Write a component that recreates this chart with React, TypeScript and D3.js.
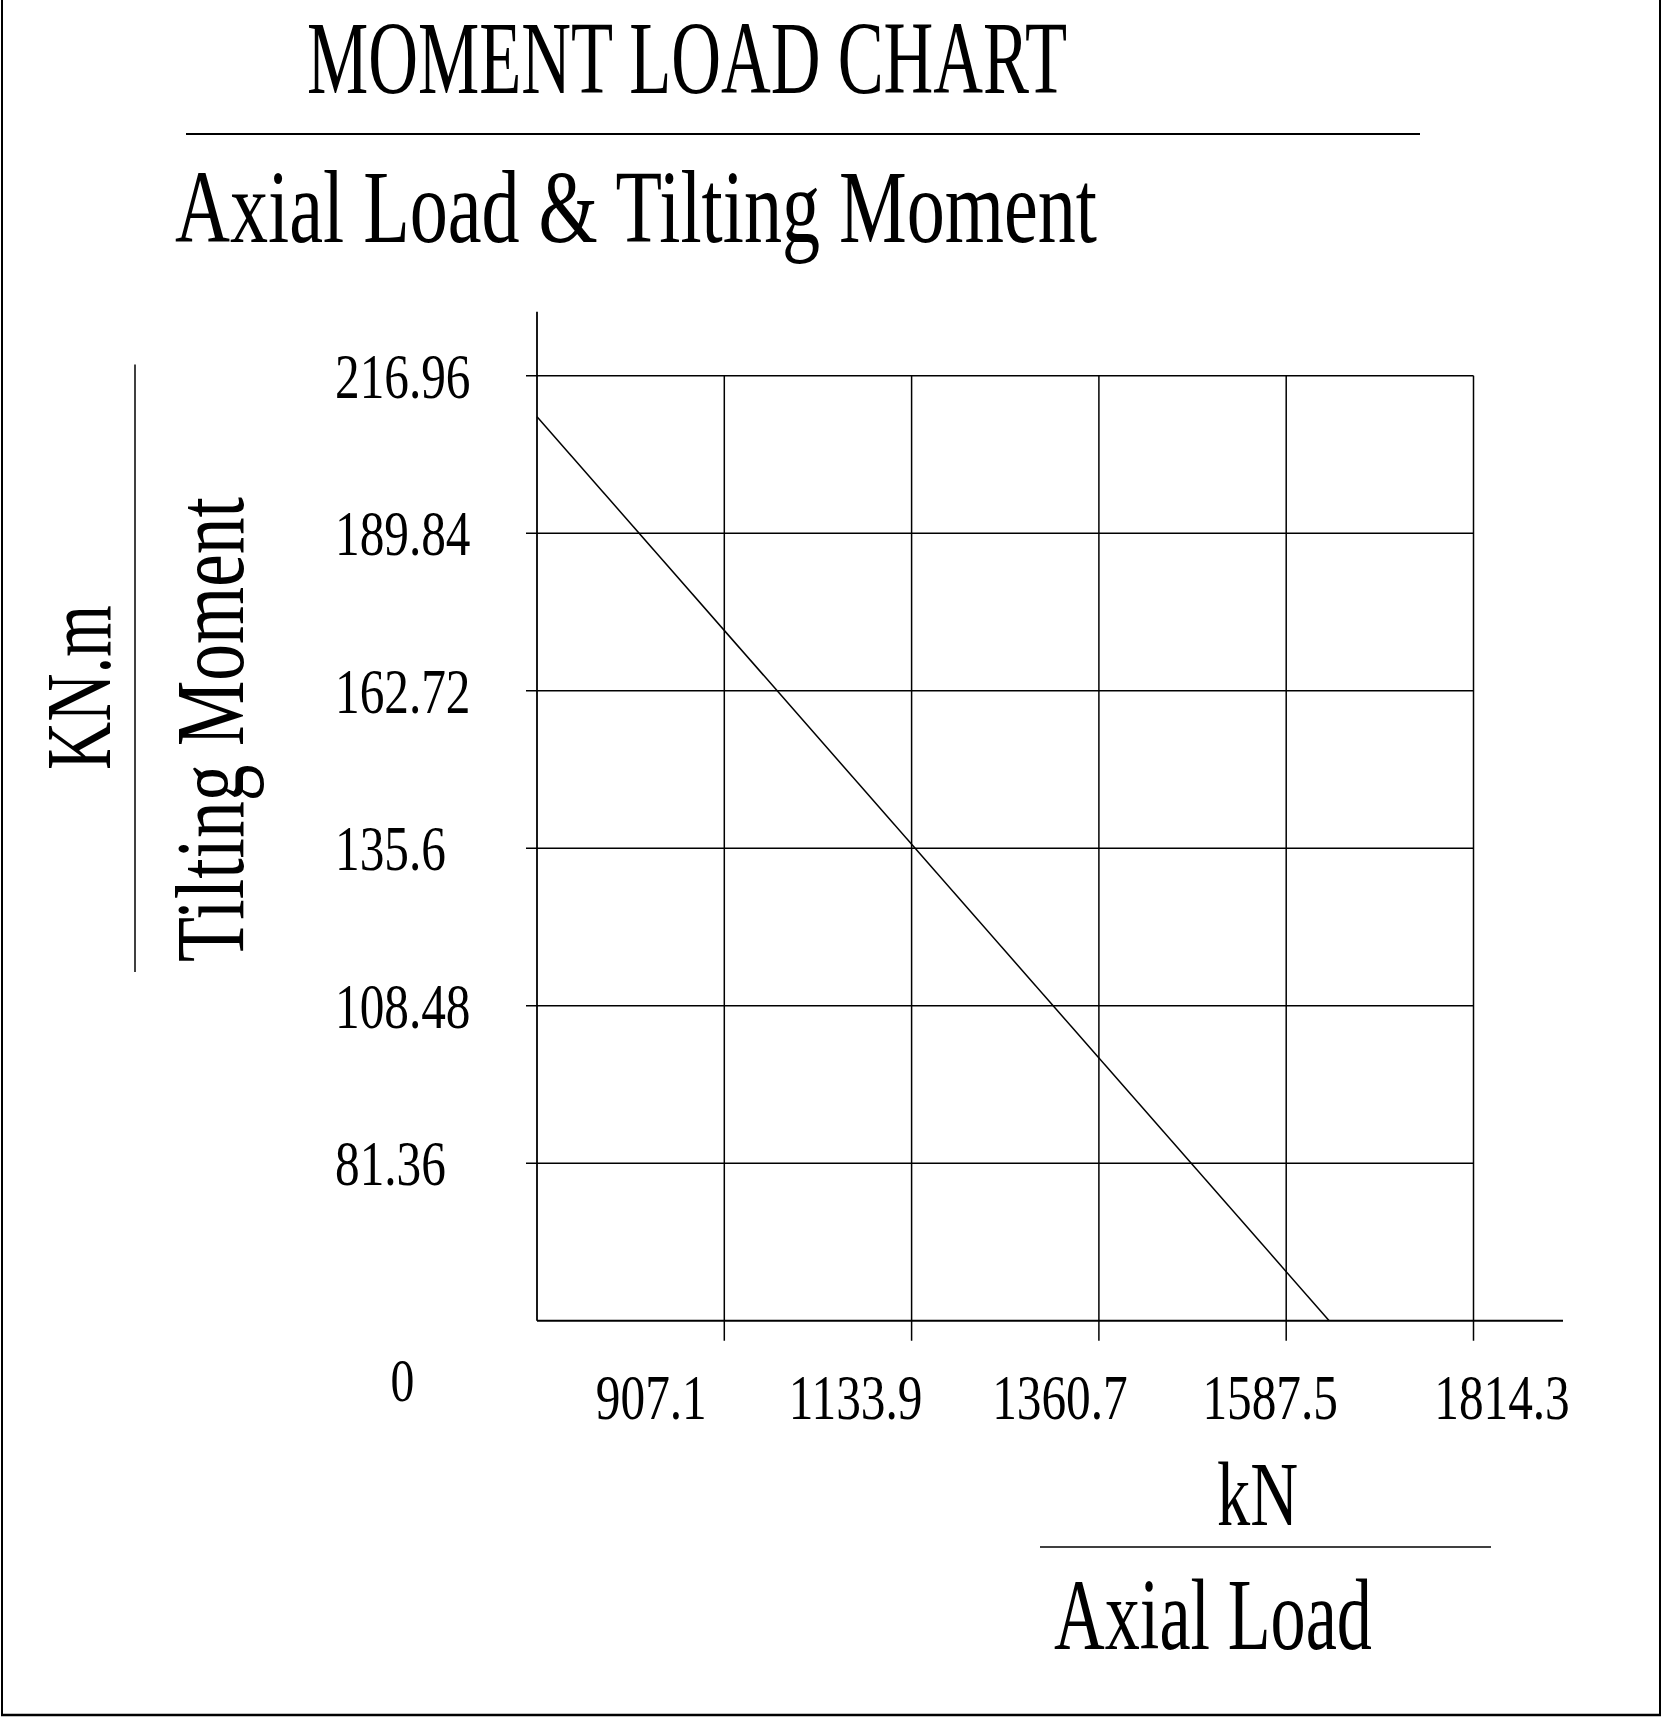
import React, { useEffect } from "react";
import * as d3 from "d3";

// ---- data ----
const yTicks = [216.96, 189.84, 162.72, 135.6, 108.48, 81.36];
const xTicks = [907.1, 1133.9, 1360.7, 1587.5, 1814.3];
const xTickLabels = ["907.1", "1133.9", "1360.7", "1587.5", "1814.3"];
const yTickLabels = ["216.96", "189.84", "162.72", "135.6", "108.48", "81.36"];
const xDomain = [680.3, 1814.3];
const yDomain = [54.24, 216.96];
const lineX = [680.3, 1639.5];
const lineY = [209.9, 54.24];

// ---- layout ----
const W = 1663;
const H = 1717;
const xLabelShift = [-73, -56, -39, -16, 28.5];
const FONT = "'Liberation Serif', 'DejaVu Serif', serif";

export default function App() {
  useEffect(() => {
    document.body.style.margin = "0";
  }, []);

  const x = d3.scaleLinear().domain(xDomain).range([537, 1473.5]);
  const y = d3.scaleLinear().domain(yDomain).range([1320.7, 375.7]);
  const pts = lineX.map((v, i) => [v, lineY[i]] as [number, number]);
  const line = d3
    .line<[number, number]>()
    .x((d) => x(d[0]))
    .y((d) => y(d[1]));

  const x0 = x(xDomain[0]);
  const y0 = y(yDomain[0]);
  const yTop = y(yDomain[1]);
  const xRight = x(xDomain[1]);

  return (
    <svg
      width={W}
      height={H}
      viewBox={`0 0 ${W} ${H}`}
      style={{ display: "block", background: "#fff" }}
      fontFamily={FONT}
    >
      <rect x={0} y={0} width={W} height={H} fill="#fff" />
      {/* page border (left, right, bottom) */}
      <line x1={2} y1={0} x2={2} y2={1715} stroke="#000" strokeWidth={2} />
      <line x1={1660} y1={0} x2={1660} y2={1715} stroke="#000" strokeWidth={2} />
      <line x1={1} y1={1715} x2={1661} y2={1715} stroke="#000" strokeWidth={2.5} />

      {/* titles */}
      <text x={307} y={93} fontSize={103} textLength={760} lengthAdjust="spacingAndGlyphs">
        MOMENT LOAD CHART
      </text>
      <line x1={186} y1={134} x2={1420} y2={134} stroke="#000" strokeWidth={2} />
      <text x={175} y={242} fontSize={104} textLength={922} lengthAdjust="spacingAndGlyphs">
        Axial Load &amp; Tilting Moment
      </text>

      {/* y axis title */}
      <text
        transform="translate(110,770) rotate(-90)"
        fontSize={94}
        textLength={165}
        lengthAdjust="spacingAndGlyphs"
      >
        KN.m
      </text>
      <line x1={135} y1={364.5} x2={135} y2={972} stroke="#000" strokeWidth={1.5} />
      <text
        transform="translate(243,962) rotate(-90)"
        fontSize={98}
        textLength={465}
        lengthAdjust="spacingAndGlyphs"
      >
        Tilting Moment
      </text>

      {/* horizontal grid lines */}
      {yTicks.map((t) => (
        <line
          key={"hy" + t}
          x1={x0 - 11}
          x2={xRight}
          y1={y(t)}
          y2={y(t)}
          stroke="#000"
          strokeWidth={1.5}
        />
      ))}
      {/* vertical grid lines */}
      {xTicks.map((t) => (
        <line
          key={"vx" + t}
          x1={x(t)}
          x2={x(t)}
          y1={yTop}
          y2={y0 + 20}
          stroke="#000"
          strokeWidth={1.5}
        />
      ))}
      {/* axes */}
      <line x1={x0} x2={x0} y1={yTop - 64} y2={y0} stroke="#000" strokeWidth={1.8} />
      <line x1={x0} x2={xRight + 89.5} y1={y0} y2={y0} stroke="#000" strokeWidth={2} />

      {/* data line */}
      <path d={line(pts) || ""} fill="none" stroke="#000" strokeWidth={1.5} />

      {/* y tick labels */}
      {yTicks.map((t, i) => (
        <text
          key={"yl" + t}
          transform={`translate(335,${y(t) + 22}) scale(0.77,1)`}
          fontSize={64}
        >
          {yTickLabels[i]}
        </text>
      ))}
      {/* origin label */}
      <text transform="translate(402.5,1401) scale(0.77,1)" fontSize={62} textAnchor="middle">
        0
      </text>
      {/* x tick labels */}
      {xTicks.map((t, i) => (
        <text
          key={"xl" + t}
          transform={`translate(${x(t) + xLabelShift[i]},1419) scale(0.77,1)`}
          fontSize={64}
          textAnchor="middle"
        >
          {xTickLabels[i]}
        </text>
      ))}

      {/* x axis title */}
      <text x={1217} y={1525} fontSize={92} textLength={81} lengthAdjust="spacingAndGlyphs">
        kN
      </text>
      <line x1={1040} y1={1547} x2={1491} y2={1547} stroke="#000" strokeWidth={1.5} />
      <text x={1054} y={1649} fontSize={101} textLength={318} lengthAdjust="spacingAndGlyphs">
        Axial Load
      </text>
    </svg>
  );
}
